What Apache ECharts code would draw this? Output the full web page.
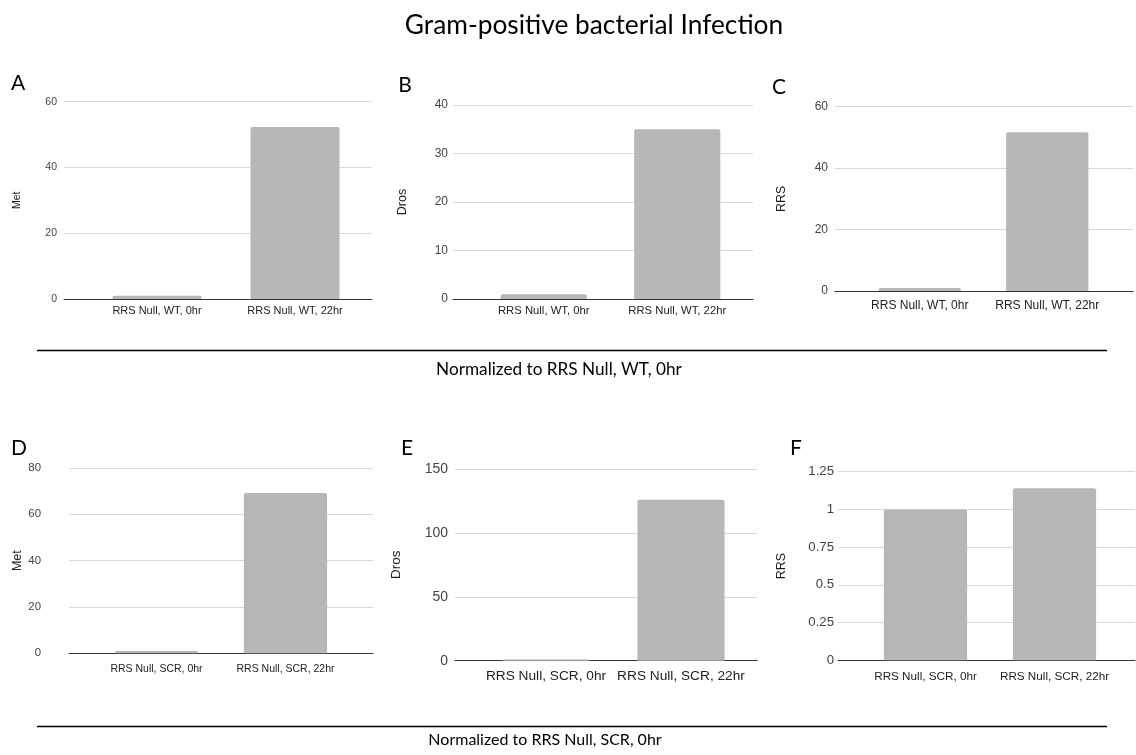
<!DOCTYPE html>
<html>
<head>
<meta charset="utf-8">
<script src="https://cdn.jsdelivr.net/npm/echarts@6/dist/echarts.min.js"></script>
<style>
html,body{margin:0;padding:0;background:#fff;}
#chart{width:1136px;height:755px;}
</style>
</head>
<body>
<div id="chart"></div>
<script>
// ---- data ----
const chartTitle = 'Gram-positive bacterial Infection';
const panelLetters = ['A', 'B', 'C', 'D', 'E', 'F'];
const categoriesWT = ['RRS Null, WT, 0hr', 'RRS Null, WT, 22hr'];
const categoriesSCR = ['RRS Null, SCR, 0hr', 'RRS Null, SCR, 22hr'];
const yAxisNames = ['Met', 'Dros', 'RRS', 'Met', 'Dros', 'RRS'];
const valuesA = [1, 52.3];
const valuesB = [1, 35.0];
const valuesC = [1, 51.7];
const valuesD = [1, 69.2];
const valuesE = [1, 126];
const valuesF = [1, 1.14];
const yMaxes = [60, 40, 60, 80, 150, 1.25];
const yIntervals = [20, 10, 20, 20, 50, 0.25];
const footnoteWT = 'Normalized to RRS Null, WT, 0hr';
const footnoteSCR = 'Normalized to RRS Null, SCR, 0hr';

const panelValues = [valuesA, valuesB, valuesC, valuesD, valuesE, valuesF];
const panelCats = [categoriesWT, categoriesWT, categoriesWT, categoriesSCR, categoriesSCR, categoriesSCR];

// ---- layout (pixels) ----
// gl/gr: gridline extent, cl/cr: category band extent, t/b: top/zero line
const layout = [
  {gl: 64,  gr: 372,  cl: 88,  cr: 364,  t: 101.7, b: 299,   tick: 10.5, cat: 11,   name: 10.5, nameGap: 41, labM: 7,  catM: 6},
  {gl: 453, gr: 753,  cl: 477, cr: 744,  t: 105,   b: 299,   tick: 12,   cat: 11.3, name: 12.5, nameGap: 44, labM: 5,  catM: 6},
  {gl: 835, gr: 1133, cl: 856, cr: 1111, t: 106.7, b: 291,   tick: 12,   cat: 12,   name: 12.5, nameGap: 47, labM: 7, catM: 9},
  {gl: 69,  gr: 373,  cl: 92,  cr: 350,  t: 468,   b: 653.3, tick: 11.4, cat: 10.5, name: 12.5, nameGap: 44, labM: 28, catM: 10},
  {gl: 455, gr: 757,  cl: 478.5, cr: 748.5, t: 469, b: 660.7, tick: 14,   cat: 13.7, name: 13.5, nameGap: 52, labM: 7, catM: 9},
  {gl: 838, gr: 1135, cl: 861, cr: 1119, t: 471.7, b: 660.3, tick: 13.2, cat: 11.7, name: 12.5, nameGap: 50, labM: 4,  catM: 10}
];
const letterPos = [[18, 83], [405, 85], [779, 87], [19, 448], [407, 448], [796, 448]];

const grids = [], xAxes = [], yAxes = [], series = [];
const FONT = 'Liberation Sans, Arial, sans-serif';
const SOFT = 'Lato, Open Sans, sans-serif';

layout.forEach((p, i) => {
  const bg = grids.length;
  grids.push({left: p.gl, top: p.t, width: p.gr - p.gl, height: p.b - p.t, containLabel: false});
  xAxes.push({
    gridIndex: bg, type: 'value', min: 0, max: 1,
    axisLine: {show: true, onZero: false, lineStyle: {color: '#333', width: 1}},
    axisTick: {show: false}, axisLabel: {show: false}, splitLine: {show: false}
  });
  yAxes.push({
    gridIndex: bg, type: 'value', min: 0, max: yMaxes[i], interval: yIntervals[i],
    name: yAxisNames[i], nameLocation: 'middle', nameGap: p.nameGap,
    nameTextStyle: {fontFamily: FONT, fontSize: p.name, color: '#222'},
    axisLine: {show: false}, axisTick: {show: false},
    axisLabel: {fontFamily: FONT, fontSize: p.tick, color: '#444', margin: p.labM},
    splitLine: {show: true, lineStyle: {color: '#d9d9d9', width: 1}}
  });
  const dg = grids.length;
  grids.push({left: p.cl, top: p.t, width: p.cr - p.cl, height: p.b - p.t, containLabel: false});
  xAxes.push({
    gridIndex: dg, type: 'category', data: panelCats[i],
    axisLine: {show: false}, axisTick: {show: false},
    axisLabel: {fontFamily: FONT, fontSize: p.cat, color: '#222', margin: p.catM, interval: 0}
  });
  yAxes.push({
    gridIndex: dg, type: 'value', min: 0, max: yMaxes[i], interval: yIntervals[i], show: false,
    splitLine: {show: false}
  });
  series.push({
    type: 'bar', xAxisIndex: xAxes.length - 1, yAxisIndex: yAxes.length - 1,
    data: panelValues[i], barWidth: '64.5%',
    itemStyle: {color: '#b7b7b7', borderRadius: [2, 2, 0, 0]},
    z: 1
  });
});

const graphics = [];
panelLetters.forEach((L, i) => {
  graphics.push({
    type: 'text', x: letterPos[i][0], y: letterPos[i][1],
    style: {text: L, fontFamily: SOFT, fontSize: 21, fill: '#000', textAlign: 'center', textVerticalAlign: 'middle'}
  });
});
graphics.push({type: 'line', shape: {x1: 37, y1: 350.5, x2: 1107, y2: 350.5}, style: {stroke: '#000', lineWidth: 1.5}});
graphics.push({type: 'line', shape: {x1: 37, y1: 726.5, x2: 1107, y2: 726.5}, style: {stroke: '#000', lineWidth: 1.5}});
graphics.push({type: 'text', x: 559, y: 369, style: {text: footnoteWT, fontFamily: SOFT, fontSize: 17.2, fill: '#000', textAlign: 'center', textVerticalAlign: 'middle'}});
graphics.push({type: 'text', x: 545, y: 740, style: {text: footnoteSCR, fontFamily: SOFT, fontSize: 16, fill: '#000', textAlign: 'center', textVerticalAlign: 'middle'}});

const chart = echarts.init(document.getElementById('chart'), null, {renderer: 'canvas'});
chart.setOption({
  animation: false,
  backgroundColor: '#fff',
  title: {
    text: chartTitle, left: 589, top: 8, textAlign: 'center',
    textStyle: {fontFamily: SOFT, fontSize: 26.3, fontWeight: 'normal', color: '#000'}
  },
  grid: grids,
  xAxis: xAxes,
  yAxis: yAxes,
  series: series,
  graphic: graphics
});
</script>
</body>
</html>
